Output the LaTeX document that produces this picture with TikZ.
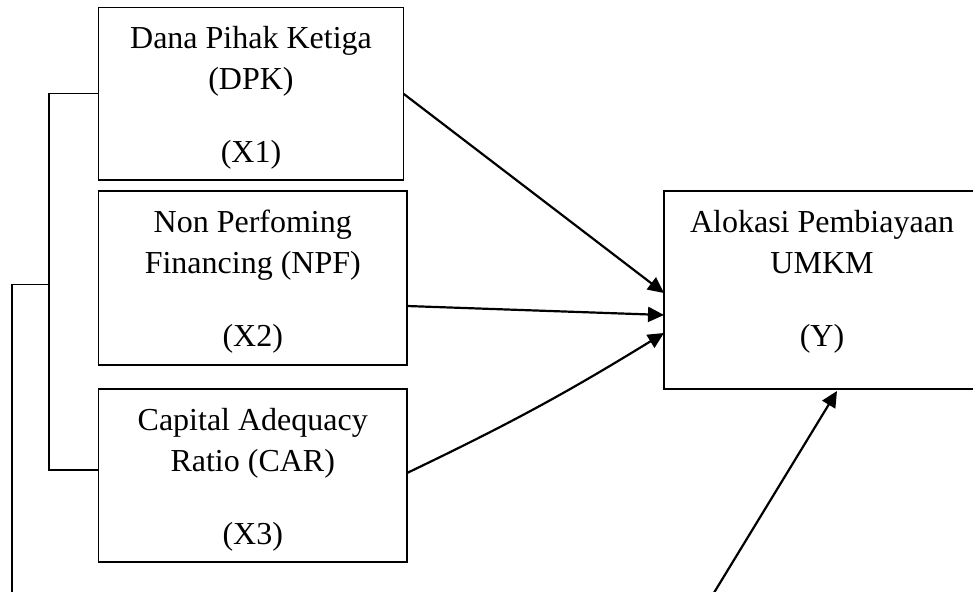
\documentclass[tikz,border=0pt]{standalone}
\usepackage{fontspec}
\setmainfont{Liberation Serif}
\usetikzlibrary{arrows.meta,calc}
\newcommand{\boxtxt}[3]{\parbox[c][#1][t]{#2}{\fontsize{32}{41}\selectfont\centering\rule{0pt}{41pt}#3}}
\begin{document}
\begin{tikzpicture}[x=1pt,y=-1pt,
  varbox/.style={draw,line width=1.6pt,inner sep=0pt,outer sep=0pt,anchor=north west},
  openbox/.style={line width=1.6pt},
  conn/.style={line width=2.2pt,-{Triangle[length=16pt,width=15pt]}},
  brk/.style={line width=1.5pt}]
\useasboundingbox (0,0) rectangle (973,591);
\clip (0,0) rectangle (973,591);
\node[varbox] (x1) at (98.5,7.5) {\boxtxt{172.5pt}{305pt}{Dana Pihak Ketiga\\(DPK)\\[32pt](X1)}};
\node[varbox] (x2) at (98.5,191) {\boxtxt{174pt}{308.5pt}{Non Perfoming\\Financing (NPF)\\[32pt](X2)}};
\node[varbox] (x3) at (98.5,389) {\boxtxt{173pt}{308.5pt}{Capital Adequacy\\Ratio (CAR)\\[32pt](X3)}};
\node[varbox,draw=none] (y) at (664,191) {\boxtxt{198pt}{316pt}{Alokasi Pembiayaan\\UMKM\\[32pt](Y)}};
\draw[openbox] ([xshift=30pt]y.north east) -- (y.north west) -- (y.south west) -- ([xshift=30pt]y.south east);
% bracket
\draw[brk] (x1.west) -- ++(-49.5,0) |- ([yshift=5.5pt]x3.west);
\coordinate (bj) at (49,284.3);
\coordinate (obot) at (12,596);
\draw[brk] (bj) -| (obot);
% arrows
\draw[conn] (x1.east) -- ([yshift=-3pt]y.west);
\draw[conn] ([yshift=-28pt]x2.east) -- ([yshift=-25pt]y.west);
\draw[conn] ([yshift=2.5pt]x3.east) to[bend right=3] ([yshift=-43pt]y.west);
\coordinate (src) at (712,596);
\draw[conn] (src) -- ([xshift=15pt,yshift=-2pt]y.south);
\end{tikzpicture}
\end{document}
